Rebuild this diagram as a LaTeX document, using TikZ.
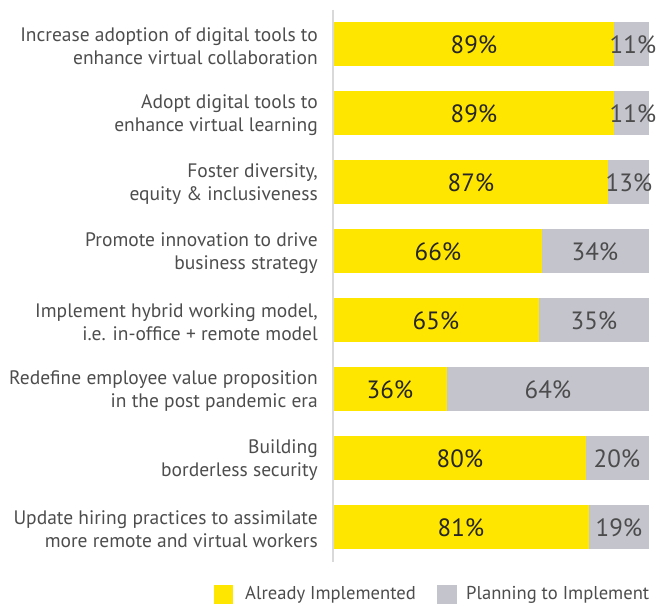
\documentclass[tikz,border=0pt]{standalone}
\usepackage{fontspec}
\setmainfont{PT Sans}
\definecolor{eyyellow}{HTML}{FFE600}
\definecolor{eygray}{HTML}{C4C4CD}
\definecolor{labelgray}{HTML}{4D4D4D}
\definecolor{axisgray}{HTML}{D9D9D9}
\tikzset{
	donebar/.style={fill=eyyellow},
	planbar/.style={fill=eygray},
	rowlabel/.style={anchor=east, align=right, text=labelgray, font=\fontsize{19.5}{23}\selectfont, inner sep=0pt},
	donepct/.style={text=black!85, font=\fontsize{25}{26}\selectfont, inner sep=0pt},
	planpct/.style={text=black!70, font=\fontsize{25}{26}\selectfont, inner sep=0pt},
	legendtext/.style={anchor=base west, text=labelgray, font=\fontsize{18.6}{22}\selectfont, inner sep=0pt}
}
\begin{document}
\begin{tikzpicture}[x=1pt, y=-1pt]
		\useasboundingbox (0,0) rectangle (656,604);
		% axis
		\draw[axisgray, line width=1.5pt] (333,10) -- (333,562);
		% bars
		\fill[donebar] (334,22) rectangle (614.35,66);
		\fill[planbar] (614.35,22) rectangle (649,66);
		\fill[donebar] (334,91) rectangle (614.35,135);
		\fill[planbar] (614.35,91) rectangle (649,135);
		\fill[donebar] (334,160) rectangle (608.05,204);
		\fill[planbar] (608.05,160) rectangle (649,204);
		\fill[donebar] (334,229) rectangle (541.9,273);
		\fill[planbar] (541.9,229) rectangle (649,273);
		\fill[donebar] (334,298) rectangle (538.75,342);
		\fill[planbar] (538.75,298) rectangle (649,342);
		\fill[donebar] (334,367) rectangle (447.4,411);
		\fill[planbar] (447.4,367) rectangle (649,411);
		\fill[donebar] (334,436) rectangle (586,480);
		\fill[planbar] (586,436) rectangle (649,480);
		\fill[donebar] (334,505) rectangle (589.15,549);
		\fill[planbar] (589.15,505) rectangle (649,549);
		% labels
		\node[rowlabel] (collab) at (318,46) {Increase adoption of digital tools to\\enhance virtual collaboration};
		\node[rowlabel] (learning) at (318,115) {Adopt digital tools to\\enhance virtual learning};
		\node[rowlabel] (diversity) at (318,184) {Foster diversity,\\equity \& inclusiveness};
		\node[rowlabel] (innovation) at (318,253) {Promote innovation to drive\\business strategy};
		\node[rowlabel] (hybrid) at (318,322) {Implement hybrid working model,\\i.e. in-office + remote model};
		\node[rowlabel] (evp) at (318,391) {Redefine employee value proposition\\in the post pandemic era};
		\node[rowlabel] (security) at (318,460) {Building\\borderless security};
		\node[rowlabel] (hiring) at (318,529) {Update hiring practices to assimilate\\more remote and virtual workers};
		% values
		\node[donepct] (collab-done) at (474,45) {89\%};
		\node[planpct] (collab-plan) at (633,45) {11\%};
		\node[donepct] (learning-done) at (474,114) {89\%};
		\node[planpct] (learning-plan) at (633,114) {11\%};
		\node[donepct] (diversity-done) at (471,183) {87\%};
		\node[planpct] (diversity-plan) at (629,183) {13\%};
		\node[donepct] (innovation-done) at (438,252) {66\%};
		\node[planpct] (innovation-plan) at (595,252) {34\%};
		\node[donepct] (hybrid-done) at (436,321) {65\%};
		\node[planpct] (hybrid-plan) at (594,321) {35\%};
		\node[donepct] (evp-done) at (390,390) {36\%};
		\node[planpct] (evp-plan) at (548,390) {64\%};
		\node[donepct] (security-done) at (460,459) {80\%};
		\node[planpct] (security-plan) at (617,459) {20\%};
		\node[donepct] (hiring-done) at (461,528) {81\%};
		\node[planpct] (hiring-plan) at (619,528) {19\%};
		% legend
		\fill[donebar] (214,585) rectangle (233,604);
		\node[legendtext] (done-key) at (245,599) {Already Implemented};
		\fill[planbar] (437,585) rectangle (457,604);
		\node[legendtext] (plan-key) at (466,599) {Planning to Implement};
	\end{tikzpicture}
\end{document}
